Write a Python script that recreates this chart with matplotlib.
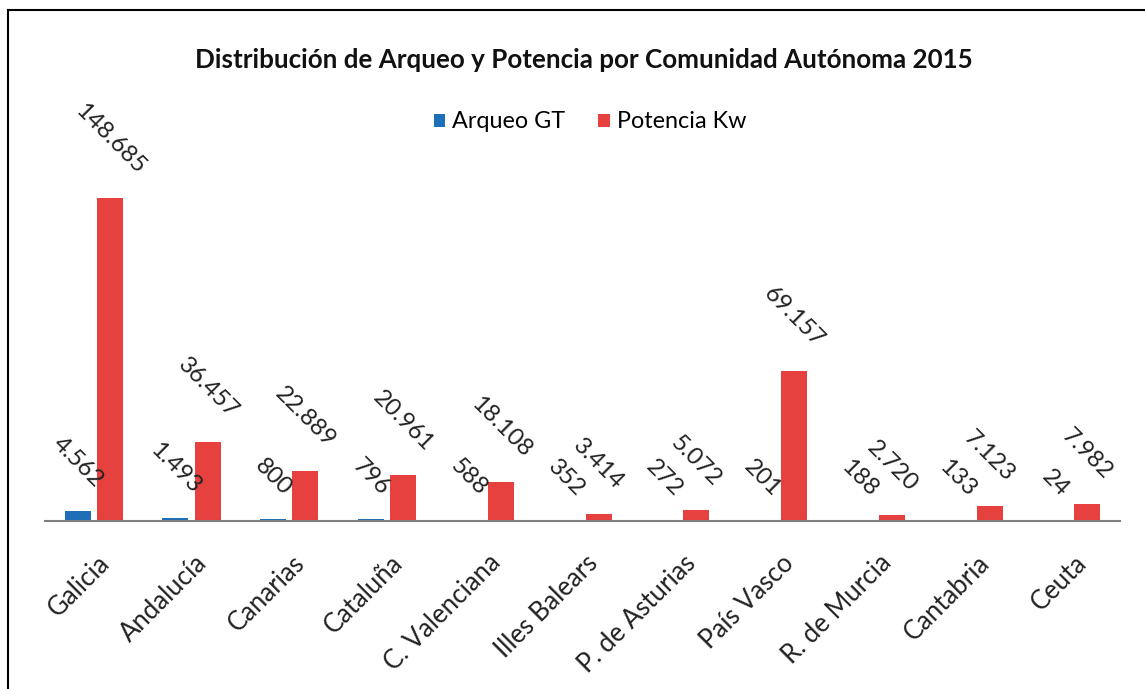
import matplotlib
matplotlib.use("Agg")
import matplotlib.pyplot as plt
import matplotlib.transforms as mtransforms
import numpy as np

categories = ["Galicia", "Andalucía", "Canarias", "Cataluña", "C. Valenciana",
              "Illes Balears", "P. de Asturias", "País Vasco", "R. de Murcia",
              "Cantabria", "Ceuta"]
arqueo_gt = [4562, 1493, 800, 796, 588, 352, 272, 201, 188, 133, 24]
potencia_kw = [148685, 36457, 22889, 20961, 18108, 3414, 5072, 69157, 2720, 7123, 7982]

title = "Distribución de Arqueo y Potencia por Comunidad Autónoma 2015"
series_names = ["Arqueo GT", "Potencia Kw"]
colors = ["#1F6FB8", "#E6403F"]

plt.rcParams['font.family'] = ['Lato', 'DejaVu Sans']

W, H = 1145, 689
fig = plt.figure(figsize=(W / 100, H / 100), dpi=100)
fig.patch.set_facecolor("white")

# outer border (left and top visible)
fig.add_artist(plt.Line2D([8 / W, 8 / W], [0, 1 - 10 / H], color="black", lw=1.5, transform=fig.transFigure))
fig.add_artist(plt.Line2D([8 / W, 1], [1 - 10 / H, 1 - 10 / H], color="black", lw=1.5, transform=fig.transFigure))

ax_left, ax_right = 45, 1120
ax_top, ax_base = 160, 521
ax = fig.add_axes([ax_left / W, 1 - ax_base / H, (ax_right - ax_left) / W, (ax_base - ax_top) / H])
ax.set_facecolor("none")

x = np.arange(len(categories))
bw = 0.266
off = 0.165
b1 = ax.bar(x - off, arqueo_gt, bw, color=colors[0], label=series_names[0])
b2 = ax.bar(x + off, potencia_kw, bw, color=colors[1], label=series_names[1])

ax.set_xlim(-0.5, len(categories) - 0.5)
ax.set_ylim(0, 148685 * (ax_base - ax_top) / 323)

for s in ["top", "right", "left"]:
    ax.spines[s].set_visible(False)
ax.spines["bottom"].set_color("#7f7f7f")
ax.spines["bottom"].set_linewidth(1.5)
ax.set_yticks([])
ax.set_xticks(x)
ax.tick_params(axis="x", length=0, pad=21)
ax.set_xticklabels(categories, rotation=45, ha="right", va="top",
                   rotation_mode="anchor", fontsize=18.5, color="#222222")
shift = mtransforms.ScaledTranslation(3 / 100, 0, fig.dpi_scale_trans)
for lab in ax.get_xticklabels():
    lab.set_transform(lab.get_transform() + shift)

def fmt(v):
    return f"{v:,}".replace(",", ".")

for bars, vals in [(b1, arqueo_gt), (b2, potencia_kw)]:
    for rect, v in zip(bars, vals):
        ax.annotate(fmt(v), xy=(rect.get_x() + rect.get_width() / 2, v),
                    xytext=(0, 14.5), textcoords="offset points",
                    ha="center", va="bottom", rotation=-45,
                    fontsize=17.3, color="#222222", annotation_clip=False)

fig.text(584 / W, 1 - 60 / H, title, ha="center", va="center",
         fontsize=18.7, fontweight="bold", color="#111111")

fig.legend(handles=[b1, b2], labels=series_names, loc="center",
           bbox_to_anchor=(590 / W, 1 - 122 / H), ncol=2, frameon=False,
           fontsize=16.8, handlelength=0.5, handleheight=0.5,
           handletextpad=0.3, columnspacing=1.4)

fig.savefig("out.png", dpi=100, facecolor="white")
